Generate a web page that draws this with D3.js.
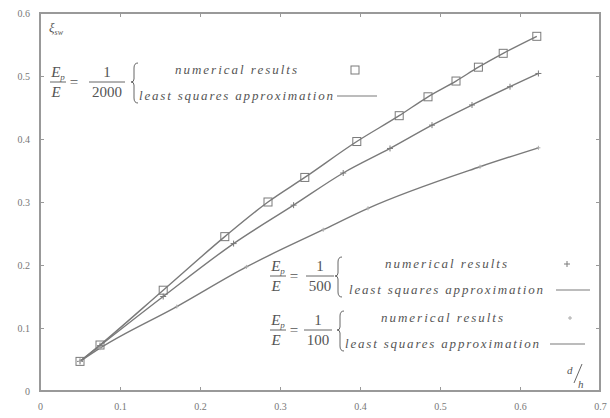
<!DOCTYPE html>
<html>
<head>
<meta charset="utf-8">
<script src="https://cdn.jsdelivr.net/npm/d3@7"></script>
<style>
  body { margin: 0; background: #fff; }
  svg text { font-family: "Times New Roman", "Liberation Serif", "DejaVu Serif", serif !important; fill: #555; }
</style>
</head>
<body>
<div id="chart"></div>
<script>
// data (x = d/h, y = xi_sw)
const xTicks = [0, 0.1, 0.2, 0.3, 0.4, 0.5, 0.6, 0.7]
const yTicks = [0, 0.1, 0.2, 0.3, 0.4, 0.5, 0.6]

// E_p/E = 1/2000
const s2000X = [0.05, 0.075, 0.154, 0.231, 0.285, 0.331, 0.396, 0.449, 0.485, 0.520, 0.548, 0.579, 0.621]
const s2000Y = [0.047, 0.073, 0.160, 0.245, 0.300, 0.339, 0.396, 0.437, 0.467, 0.492, 0.514, 0.536, 0.563]
// E_p/E = 1/500
const s500X = [0.05, 0.075, 0.154, 0.242, 0.317, 0.379, 0.4375, 0.49, 0.54, 0.5875, 0.623]
const s500Y = [0.047, 0.072, 0.150, 0.234, 0.295, 0.346, 0.385, 0.422, 0.454, 0.483, 0.504]
// E_p/E = 1/100
const s100X = [0.05, 0.075, 0.171, 0.258, 0.354, 0.41, 0.55, 0.623]
const s100Y = [0.047, 0.068, 0.134, 0.197, 0.256, 0.290, 0.356, 0.386]

const W = 610, H = 418
const svg = d3.select("#chart").append("svg")
  .attr("width", W)
  .attr("height", H)

const x = d3.scaleLinear().domain([0, 0.7]).range([40, 600])
const y = d3.scaleLinear().domain([0, 0.6]).range([391, 13])

const GRAY = "#7a7a7a"

// frame
svg.append("rect")
  .attr("x", x(0)).attr("y", y(0.6))
  .attr("width", x(0.7) - x(0)).attr("height", y(0) - y(0.6))
  .attr("fill", "none").attr("stroke", "#999").attr("stroke-width", 2)

// axes with inward ticks, mirrored
const fmt = d => d === 0 ? "0" : d3.format(".1f")(d)
svg.append("g").attr("transform", `translate(0,${y(0)})`)
  .call(d3.axisBottom(x).tickValues(xTicks).tickSize(-4).tickPadding(12).tickFormat(fmt))
svg.append("g").attr("transform", `translate(0,${y(0.6)})`)
  .call(d3.axisTop(x).tickValues(xTicks).tickSize(-4).tickFormat(""))
svg.append("g").attr("transform", `translate(${x(0)},0)`)
  .call(d3.axisLeft(y).tickValues(yTicks).tickSize(-4).tickPadding(10).tickFormat(fmt))
svg.append("g").attr("transform", `translate(${x(0.7)},0)`)
  .call(d3.axisRight(y).tickValues(yTicks).tickSize(-4).tickFormat(""))

svg.selectAll(".domain").remove()
svg.selectAll(".tick line").attr("stroke", "#999").attr("stroke-width", 1)
svg.selectAll(".tick text").attr("font-size", 10).style("fill", "#777")

// curves
const line = d3.line().x(d => x(d[0])).y(d => y(d[1])).curve(d3.curveMonotoneX)
const series = [
  { xs: s2000X, ys: s2000Y, mark: "square" },
  { xs: s500X, ys: s500Y, mark: "plus" },
  { xs: s100X, ys: s100Y, mark: "dot" }
]

function drawMark(g, type, cx, cy) {
  if (type === "square") {
    g.append("rect").attr("x", cx - 4).attr("y", cy - 4).attr("width", 8).attr("height", 8)
      .attr("fill", "none").attr("stroke", GRAY).attr("stroke-width", 1)
  } else if (type === "plus") {
    g.append("path").attr("d", `M${cx - 3},${cy}H${cx + 3}M${cx},${cy - 3}V${cy + 3}`)
      .attr("stroke", GRAY).attr("stroke-width", 1)
  } else {
    g.append("path").attr("d", `M${cx - 2},${cy}H${cx + 2}M${cx},${cy - 2}V${cy + 2}`)
      .attr("stroke", "#aaa").attr("stroke-width", 1)
  }
}

series.forEach(s => {
  const pts = s.xs.map((v, i) => [v, s.ys[i]])
  svg.append("path").attr("d", line(pts))
    .attr("fill", "none").attr("stroke", GRAY).attr("stroke-width", 1.4)
  const mg = svg.append("g")
  pts.forEach(p => drawMark(mg, s.mark, x(p[0]), y(p[1])))
})

// y label
const yl = svg.append("text").attr("x", 49).attr("y", 32).attr("font-size", 13).attr("font-style", "italic")
yl.append("tspan").text("ξ")
yl.append("tspan").attr("font-size", 8).attr("dy", 3).text("sw")

// x label d/h
svg.append("text").attr("x", 567).attr("y", 374).attr("font-size", 11).attr("font-style", "italic").text("d")
svg.append("line").attr("x1", 574).attr("y1", 383).attr("x2", 582).attr("y2", 364)
  .attr("stroke", "#666").attr("stroke-width", 1)
svg.append("text").attr("x", 578).attr("y", 388).attr("font-size", 11).attr("font-style", "italic").text("h")

// legends
const legends = [
  { den: "2000", ex: 58, bar: 82, nx: 107, bx: 134, lx: 236, mx: 355, l1: 337, l2: 377, mark: "square" },
  { den: "500", ex: 278, bar: 276, nx: 320, bx: 338, lx: 446, mx: 567, l1: 556, l2: 590, mark: "plus" },
  { den: "100", ex: 278, bar: 330, nx: 318, bx: 340, lx: 442, mx: 570, l1: 550, l2: 585, mark: "dot" }
]

legends.forEach(L => {
  const g = svg.append("g")
  const ep = g.append("text").attr("x", L.ex).attr("y", L.bar - 5).attr("text-anchor", "middle")
    .attr("font-size", 15).attr("font-style", "italic")
  ep.append("tspan").text("E")
  ep.append("tspan").attr("font-size", 9).attr("dy", 3).text("p")
  g.append("line").attr("x1", L.ex - 8).attr("x2", L.ex + 8).attr("y1", L.bar).attr("y2", L.bar)
    .attr("stroke", "#666").attr("stroke-width", 1)
  g.append("text").attr("x", L.ex - 2).attr("y", L.bar + 15).attr("text-anchor", "middle")
    .attr("font-size", 15).attr("font-style", "italic").text("E")
  g.append("text").attr("x", L.ex + 16).attr("y", L.bar + 5).attr("text-anchor", "middle")
    .attr("font-size", 15).text("=")
  const hw = L.den.length * 4 + 2
  g.append("text").attr("x", L.nx).attr("y", L.bar - 5).attr("text-anchor", "middle")
    .attr("font-size", 15).text("1")
  g.append("line").attr("x1", L.nx - hw).attr("x2", L.nx + hw).attr("y1", L.bar).attr("y2", L.bar)
    .attr("stroke", "#666").attr("stroke-width", 1)
  g.append("text").attr("x", L.nx).attr("y", L.bar + 15).attr("text-anchor", "middle")
    .attr("font-size", 15).text(L.den)
  // brace
  const t = L.bar - 19, b = L.bar + 21, m = L.bar, bx = L.bx
  g.append("path")
    .attr("d", `M${bx + 4},${t} Q${bx},${t} ${bx},${t + 5} L${bx},${m - 3} Q${bx},${m} ${bx - 3},${m}` +
      ` Q${bx},${m} ${bx},${m + 3} L${bx},${b - 5} Q${bx},${b} ${bx + 4},${b}`)
    .attr("fill", "none").attr("stroke", "#666").attr("stroke-width", 1)
  g.append("text").attr("x", L.lx).attr("y", L.bar - 8).attr("text-anchor", "middle")
    .attr("font-size", 13).attr("font-style", "italic")
    .attr("textLength", 122).attr("lengthAdjust", "spacing").text("numerical results")
  g.append("text").attr("x", L.lx).attr("y", L.bar + 18).attr("text-anchor", "middle")
    .attr("font-size", 13).attr("font-style", "italic")
    .attr("textLength", 194).attr("lengthAdjust", "spacing").text("least squares approximation")
  drawMark(g, L.mark, L.mx, L.bar - 12)
  g.append("line").attr("x1", L.l1).attr("x2", L.l2).attr("y1", L.bar + 14).attr("y2", L.bar + 14)
    .attr("stroke", GRAY).attr("stroke-width", 1.2)
})
</script>
</body>
</html>
